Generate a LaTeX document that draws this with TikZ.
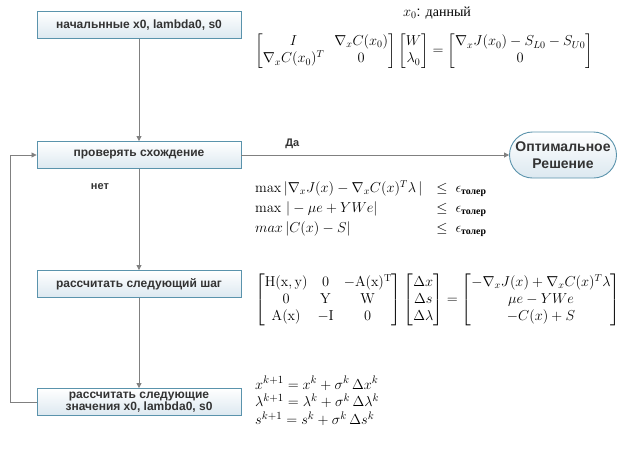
\documentclass[tikz,border=0pt]{standalone}
\usepackage{amsmath}
\usepackage[no-math]{fontspec}
\setmainfont{Liberation Sans}
\newfontfamily\cyrserif{Liberation Serif}
\usetikzlibrary{positioning,arrows.meta,shapes.misc}
\definecolor{boxline}{HTML}{5A93AC}
\definecolor{boxfill}{HTML}{DCE8F0}
\definecolor{flow}{HTML}{808080}
\definecolor{labtext}{HTML}{333333}
\newcommand{\tol}{\epsilon_{\text{\cyrserif\bfseries толер}}}

\begin{document}
\begin{tikzpicture}[
  x=1pt, y=-1pt,
  stepbox/.style={draw=boxline, line width=0.9pt, top color=white, bottom color=boxfill,
                  minimum width=204pt, minimum height=27pt, inner sep=1.5pt, align=center,
                  text=labtext, font=\bfseries\fontsize{12}{12.5}\selectfont},
  finalbox/.style={stepbox, rounded rectangle, minimum width=110pt, minimum height=46pt,
                   font=\bfseries\fontsize{14}{17}\selectfont},
  flowline/.style={draw=flow, line width=0.8pt, -{Triangle[length=5pt, width=5pt]}},
  eqn/.style={anchor=west, inner sep=0pt, font=\fontsize{14}{17}\selectfont},
  lab/.style={font=\bfseries\fontsize{11}{12}\selectfont, text=labtext},
]
  \useasboundingbox (0,0) rectangle (630,448);

  % flow boxes
  \node[stepbox] (init) at (139,25) {начальнные x0, lambda0, s0};
  \node[stepbox] (check) at (139,155) {проверять схождение};
  \node[stepbox] (step) at (139,284) {рассчитать следующий шаг};
  \node[stepbox] (update) at (139,402) {рассчитать следующие\\значения x0, lambda0, s0};
  \node[finalbox] (opt) at (563,155) {Оптимальное\\Решение};

  % connectors
  \draw[flowline] (init) -- (check);
  \draw[flowline] (check) -- (step);
  \draw[flowline] (step) -- (update);
  \draw[flowline] (check) -- (opt) node[lab, pos=0.19, above=3pt] {Да};
  \coordinate (loop) at (10,402);
  \draw[flowline] (update.west) -- (loop) |- (check.west);
  \node[lab] (no) at (100,187) {нет};

  % formulas
  \node[eqn, anchor=center] (given) at (437,13) {$x_0\text{: \cyrserif данный}$};
  \node[eqn] (kkt0) at (255,51)
    {$\begin{bmatrix} I & \nabla_x C(x_0)\\ \nabla_x C(x_0)^T & 0 \end{bmatrix}
      \begin{bmatrix} W\\ \lambda_0 \end{bmatrix} =
      \begin{bmatrix} \nabla_x J(x_0) - S_{L0} - S_{U0}\\ 0 \end{bmatrix}$};
  \node[eqn] (conv) at (255,209)
    {$\begin{array}{@{}l@{\quad}l@{}}
       \max|\nabla_x J(x) - \nabla_x C(x)^T\lambda\,| & \le\ \tol\\[3pt]
       \max\,|-\mu e + YWe| & \le\ \tol\\[3pt]
       max\,|C(x) - S| & \le\ \tol
     \end{array}$};
  \node[eqn] (newton) at (255,300)
    {$\begin{bmatrix} \mathrm{H(x,y)} & 0 & -\mathrm{A(x)^T}\\ 0 & \mathrm{Y} & \mathrm{W}\\
                      \mathrm{A(x)} & -\mathrm{I} & 0 \end{bmatrix}
      \begin{bmatrix} \Delta x\\ \Delta s\\ \Delta\lambda \end{bmatrix} =
      \begin{bmatrix} -\nabla_x J(x) + \nabla_x C(x)^T\lambda\\ \mu e - YWe\\ -C(x) + S \end{bmatrix}$};
  \node[eqn, font=\fontsize{15}{16.5}\selectfont] (next) at (255,403)
    {$\begin{array}{@{}l@{}}
       x^{k+1} = x^k + \sigma^k\,\Delta x^k\\
       \lambda^{k+1} = \lambda^k + \sigma^k\,\Delta\lambda^k\\
       s^{k+1} = s^k + \sigma^k\,\Delta s^k
     \end{array}$};
\end{tikzpicture}
\end{document}
